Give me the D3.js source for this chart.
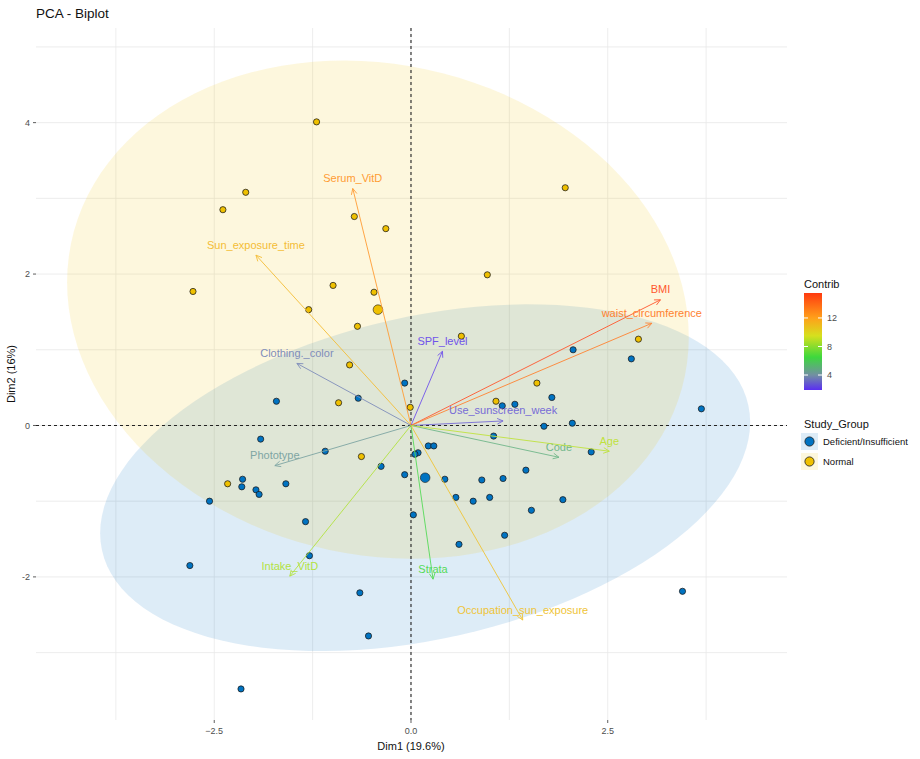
<!DOCTYPE html>
<html>
<head>
<meta charset="utf-8">
<script src="https://cdn.jsdelivr.net/npm/d3@7"></script>
<style>
  body { margin: 0; background: #fff; }
  svg { display: block; font-family: "Liberation Sans", Arial, sans-serif; }
</style>
</head>
<body>
<div id="chart"></div>
<script>
// Individuals (Dim1, Dim2) per study group
const deficientPts = [
  [2.06, 1.00], [2.80, 0.88], [-0.08, 0.56], [1.79, 0.37], [1.16, 0.26], [1.32, 0.28],
  [3.69, 0.22], [2.05, 0.03], [1.69, -0.01], [1.05, -0.14], [0.22, -0.27], [0.29, -0.27],
  [0.09, -0.36], [0.05, -0.38], [2.29, -0.35], [1.46, -0.59], [-0.08, -0.65], [0.43, -0.71],
  [0.90, -0.72], [1.17, -0.70], [0.57, -0.95], [0.79, -1.00], [1.00, -0.95], [1.93, -0.98],
  [0.03, -1.18], [1.53, -1.12], [0.61, -1.57], [1.19, -1.45], [3.45, -2.19], [-1.71, 0.32],
  [-0.67, 0.36], [-1.91, -0.18], [-1.09, -0.34], [-0.38, -0.54], [-2.14, -0.71], [-2.15, -0.81],
  [-1.97, -0.85], [-1.93, -0.91], [-1.59, -0.77], [-2.56, -1.00], [-1.34, -1.27], [-1.29, -1.72],
  [-2.81, -1.85], [-0.65, -2.21], [-0.54, -2.78], [-2.16, -3.48]
];
const normalPts = [
  [-1.20, 4.01], [-2.10, 3.08], [-2.39, 2.85], [-0.72, 2.76], [-0.32, 2.60], [-2.77, 1.77],
  [-0.99, 1.85], [-0.47, 1.76], [-1.30, 1.53], [-0.68, 1.31], [-0.78, 0.80], [1.96, 3.14],
  [0.97, 1.99], [0.64, 1.18], [2.89, 1.14], [1.60, 0.56], [1.08, 0.32], [-0.01, 0.24],
  [-0.92, 0.30], [-0.63, -0.41], [-2.33, -0.77]
];

// Groups: names, colours, means and ellipse shape (sd x, sd y, correlation)
const groupNames = ["Deficient/Insufficient", "Normal"];
const groupColors = ["#0073C2", "#EFC000"];
const groupMeans = [[0.18, -0.69], [-0.42, 1.53]];
const ellipseSx = [4.13, 3.95];
const ellipseSy = [2.29, 3.29];
const ellipseRho = [0.32, -0.11];

// Variables
const varNames = ["Serum_VitD", "Sun_exposure_time", "Clothing._color", "SPF_level", "BMI",
  "waist_circumference", "Use_sunscreen_week", "Code", "Age", "Phototype", "Intake_VitD",
  "Strata", "Occupation_sun_exposure"];
const varX = [-0.74, -1.97, -1.45, 0.40, 3.17, 3.06, 1.17, 1.88, 2.52, -1.73, -1.54, 0.28, 1.42];
const varY = [3.13, 2.25, 0.82, 0.98, 1.66, 1.35, 0.06, -0.42, -0.34, -0.53, -1.99, -2.03, -2.57];
const varContrib = [12.6, 11.2, 3.6, 2.2, 15.3, 13.6, 2.8, 5.0, 8.9, 4.3, 8.6, 6.4, 10.9];

// Axis ticks
const xTicks = [-2.5, 0, 2.5];
const xMinor = [-3.75, -1.25, 1.25, 3.75];
const yTicks = [-2, 0, 2, 4];
const yMinor = [-3, -1, 1, 3, 5];
const contribTicks = [4, 8, 12];

const W = 920, H = 759;
const panel = { left: 36, right: 787, top: 28, bottom: 720 };

const svg = d3.select("#chart").append("svg")
  .attr("width", W).attr("height", H);

svg.append("rect").attr("width", W).attr("height", H).attr("fill", "#fff");

const x = d3.scaleLinear().domain([-4.765, 4.778]).range([panel.left, panel.right]);
const y = d3.scaleLinear().domain([-3.89, 5.25]).range([panel.bottom, panel.top]);

// Contribution colour gradient
const contribDomain = [1.9, 15.5];
const contribColor = d3.scaleLinear()
  .domain([1.9, 4, 6.5, 9.5, 12, 15.5])
  .range(["#5A2EF2", "#7290A2", "#3DD83D", "#D6E01E", "#FFA01A", "#FF3A10"])
  .interpolate(d3.interpolateRgb);
// thin strokes and small text read a little lighter
const softColor = v => d3.interpolateRgb(contribColor(v), "#fff")(0.12);

// Grid
const grid = svg.append("g");
grid.selectAll(".vx").data(xMinor.concat(xTicks)).enter().append("line")
  .attr("x1", d => x(d)).attr("x2", d => x(d))
  .attr("y1", panel.top).attr("y2", panel.bottom)
  .attr("stroke", "#E8E8E8").attr("stroke-width", 0.8);
grid.selectAll(".hy").data(yMinor.concat(yTicks)).enter().append("line")
  .attr("y1", d => y(d)).attr("y2", d => y(d))
  .attr("x1", panel.left).attr("x2", panel.right)
  .attr("stroke", "#E8E8E8").attr("stroke-width", 0.8);

// Confidence ellipses
function ellipsePath(i) {
  const [cx, cy] = groupMeans[i];
  const sx = ellipseSx[i], sy = ellipseSy[i], r = ellipseRho[i];
  const pts = d3.range(0, 361, 3).map(a => {
    const t = a * Math.PI / 180;
    return [x(cx + sx * Math.cos(t)),
            y(cy + sy * (r * Math.cos(t) + Math.sqrt(1 - r * r) * Math.sin(t)))];
  });
  return d3.line()(pts) + "Z";
}
svg.append("g").selectAll("path").data(groupNames).enter().append("path")
  .attr("d", (d, i) => ellipsePath(i))
  .attr("fill", (d, i) => groupColors[i])
  .attr("fill-opacity", 0.135)
  .attr("stroke", "none");

// Reference lines
svg.append("line")
  .attr("x1", panel.left).attr("x2", panel.right)
  .attr("y1", y(0)).attr("y2", y(0))
  .attr("stroke", "#222").attr("stroke-width", 1.1).attr("stroke-dasharray", "3,3");
svg.append("line")
  .attr("x1", x(0)).attr("x2", x(0))
  .attr("y1", panel.top).attr("y2", panel.bottom)
  .attr("stroke", "#222").attr("stroke-width", 1.1).attr("stroke-dasharray", "3,3");

// Individuals
const pts = svg.append("g");
[deficientPts, normalPts].forEach((set, gi) => {
  pts.selectAll(".p" + gi).data(set).enter().append("circle")
    .attr("cx", d => x(d[0])).attr("cy", d => y(d[1]))
    .attr("r", 3.1)
    .attr("fill", groupColors[gi])
    .attr("stroke", "#1a1a1a").attr("stroke-width", 0.75);
});
// Group means
pts.selectAll(".mean").data(groupMeans).enter().append("circle")
  .attr("cx", d => x(d[0])).attr("cy", d => y(d[1]))
  .attr("r", 4.8)
  .attr("fill", (d, i) => groupColors[i])
  .attr("stroke", "#1a1a1a").attr("stroke-width", 0.6);

// Variable arrows
const arrows = svg.append("g");
varNames.forEach((name, i) => {
  const col = softColor(varContrib[i]);
  const x0 = x(0), y0 = y(0), x1 = x(varX[i]), y1 = y(varY[i]);
  const ang = Math.atan2(y1 - y0, x1 - x0);
  const hl = 6.5, ha = Math.PI / 7;
  arrows.append("line")
    .attr("x1", x0).attr("y1", y0).attr("x2", x1).attr("y2", y1)
    .attr("stroke", col).attr("stroke-width", 0.9);
  arrows.append("path")
    .attr("d", `M${x1 - hl * Math.cos(ang - ha)},${y1 - hl * Math.sin(ang - ha)}` +
               `L${x1},${y1}L${x1 - hl * Math.cos(ang + ha)},${y1 - hl * Math.sin(ang + ha)}`)
    .attr("fill", "none").attr("stroke", col).attr("stroke-width", 0.9);
  arrows.append("text")
    .attr("x", x1).attr("y", y1 - 6.5)
    .attr("text-anchor", "middle")
    .attr("font-size", 11)
    .attr("fill", col)
    .text(name);
});

// Axes
const axisCol = "#4D4D4D";
svg.append("g").selectAll("line").data(xTicks).enter().append("line")
  .attr("x1", d => x(d)).attr("x2", d => x(d))
  .attr("y1", panel.bottom).attr("y2", panel.bottom + 3)
  .attr("stroke", "#333").attr("stroke-width", 0.8);
svg.append("g").selectAll("text").data(xTicks).enter().append("text")
  .attr("x", d => x(d)).attr("y", panel.bottom + 14)
  .attr("text-anchor", "middle").attr("font-size", 9).attr("fill", axisCol)
  .text(d => d3.format(".1f")(d));
svg.append("g").selectAll("line").data(yTicks).enter().append("line")
  .attr("x1", panel.left - 3).attr("x2", panel.left)
  .attr("y1", d => y(d)).attr("y2", d => y(d))
  .attr("stroke", "#333").attr("stroke-width", 0.8);
svg.append("g").selectAll("text").data(yTicks).enter().append("text")
  .attr("x", panel.left - 6).attr("y", d => y(d) + 3.2)
  .attr("text-anchor", "end").attr("font-size", 9).attr("fill", axisCol)
  .text(d => d);

svg.append("text")
  .attr("x", x(0)).attr("y", 750)
  .attr("text-anchor", "middle").attr("font-size", 11).attr("fill", "#111")
  .text("Dim1 (19.6%)");
svg.append("text")
  .attr("transform", `translate(15,${(panel.top + panel.bottom) / 2}) rotate(-90)`)
  .attr("text-anchor", "middle").attr("font-size", 11).attr("fill", "#111")
  .text("Dim2 (16%)");

svg.append("text")
  .attr("x", 36).attr("y", 18)
  .attr("font-size", 13.5).attr("fill", "#111")
  .text("PCA - Biplot");

// Legend: Contrib colour bar
const lg = svg.append("g");
lg.append("text").attr("x", 804).attr("y", 288)
  .attr("font-size", 11).attr("fill", "#111").text("Contrib");
const barTop = 293, barBottom = 390, barL = 804, barW = 18;
const cbar = d3.scaleLinear().domain(contribDomain).range([barBottom, barTop]);
const grad = svg.append("defs").append("linearGradient")
  .attr("id", "contribGrad").attr("x1", 0).attr("y1", 1).attr("x2", 0).attr("y2", 0);
contribColor.domain().forEach(v => {
  grad.append("stop")
    .attr("offset", (v - contribDomain[0]) / (contribDomain[1] - contribDomain[0]))
    .attr("stop-color", contribColor(v));
});
lg.append("rect").attr("x", barL).attr("y", barTop)
  .attr("width", barW).attr("height", barBottom - barTop)
  .attr("fill", "url(#contribGrad)");
contribTicks.forEach(v => {
  lg.append("line").attr("x1", barL).attr("x2", barL + 4)
    .attr("y1", cbar(v)).attr("y2", cbar(v)).attr("stroke", "#fff").attr("stroke-width", 1);
  lg.append("line").attr("x1", barL + barW - 4).attr("x2", barL + barW)
    .attr("y1", cbar(v)).attr("y2", cbar(v)).attr("stroke", "#fff").attr("stroke-width", 1);
  lg.append("text").attr("x", barL + barW + 5).attr("y", cbar(v) + 3.2)
    .attr("font-size", 9).attr("fill", axisCol).text(v);
});

// Legend: Study_Group
lg.append("text").attr("x", 804).attr("y", 428)
  .attr("font-size", 11).attr("fill", "#111").text("Study_Group");
groupNames.forEach((g, i) => {
  const ky = 433 + i * 20;
  lg.append("rect").attr("x", 801).attr("y", ky).attr("width", 17).attr("height", 17)
    .attr("fill", groupColors[i]).attr("fill-opacity", 0.135);
  lg.append("circle").attr("cx", 809.5).attr("cy", ky + 8.5).attr("r", 4.6)
    .attr("fill", groupColors[i]).attr("stroke", "#1a1a1a").attr("stroke-width", 0.8);
  lg.append("text").attr("x", 823).attr("y", ky + 12)
    .attr("font-size", 9.5).attr("fill", "#111").text(g);
});
</script>
</body>
</html>
